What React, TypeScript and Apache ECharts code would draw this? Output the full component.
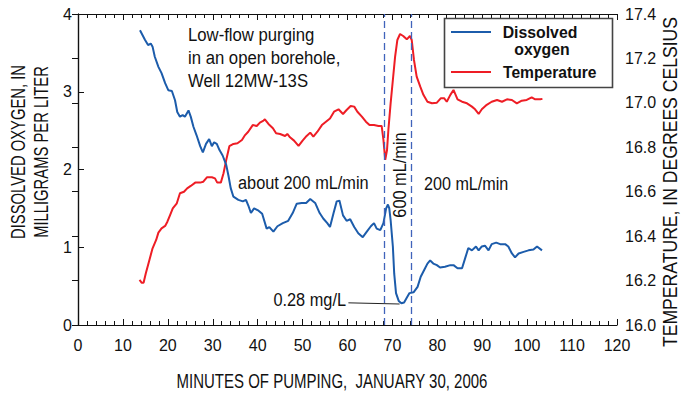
import React, { useEffect, useRef } from "react";
import * as echarts from "echarts";

// Dissolved oxygen readings (minutes of pumping, mg/L)
const minutesDO = [
  13.8, 14.9, 15.6, 16.2, 16.6, 17.1, 17.9, 18.6, 19.4, 20.1, 20.9, 21.6, 22.1, 22.7, 23.3, 23.8,
  24.6, 25.1, 25.7, 26.4, 27.2, 27.8, 28.5, 29.2, 29.8, 30.3, 30.9, 31.5, 32.2, 33.0, 33.5, 34.0,
  34.6, 35.7, 36.7, 37.4, 37.9, 38.5, 39.2, 40.2, 41.0, 42.0, 42.6, 43.5, 44.4, 45.6, 46.8, 47.8,
  48.7, 49.8, 50.8, 51.7, 52.8, 53.8, 54.6, 55.5, 56.1, 56.9, 57.6, 58.2, 59.0, 59.8, 60.6, 61.5,
  62.4, 63.4, 64.3, 65.2, 65.9, 66.5, 67.3, 68.0, 68.6, 69.0, 69.3, 69.6, 70.1, 70.4, 70.8, 71.4,
  72.0, 72.6, 73.1, 73.8, 74.7, 75.6, 76.3, 77.1, 77.8, 78.4, 79.1, 79.9, 80.6, 81.7, 82.9, 83.6,
  84.5, 85.5, 86.2, 86.9, 87.7, 88.6, 89.2, 89.9, 90.6, 91.4, 92.1, 93.1, 94.0, 95.1, 95.8, 96.6,
  97.3, 98.1, 99.2, 100.3, 101.4, 102.2, 103.3,
];
const dissolvedOxygen = [
  3.79, 3.67, 3.6, 3.62, 3.58, 3.45, 3.32, 3.24, 3.11, 3.02, 3.01, 2.89, 2.74, 2.68, 2.7, 2.68,
  2.76, 2.68, 2.55, 2.44, 2.3, 2.22, 2.33, 2.39, 2.3, 2.35, 2.33, 2.25, 2.18, 2.06, 1.92, 1.76,
  1.65, 1.61, 1.59, 1.61, 1.54, 1.44, 1.5, 1.47, 1.43, 1.24, 1.26, 1.2, 1.27, 1.31, 1.34, 1.44,
  1.56, 1.57, 1.57, 1.62, 1.57, 1.44, 1.37, 1.31, 1.26, 1.44, 1.59, 1.6, 1.41, 1.34, 1.36, 1.26,
  1.18, 1.13, 1.2, 1.27, 1.31, 1.24, 1.22, 1.31, 1.5, 1.55, 1.5, 1.35, 1.01, 0.66, 0.41, 0.31,
  0.28, 0.29, 0.34, 0.41, 0.42, 0.49, 0.62, 0.71, 0.79, 0.83, 0.79, 0.77, 0.74, 0.75, 0.77, 0.77,
  0.73, 0.73, 0.86, 0.99, 0.96, 1.01, 0.96, 1.01, 1.02, 0.96, 1.04, 1.06, 1.04, 1.04, 1.01, 0.92,
  0.87, 0.92, 0.94, 0.96, 0.97, 1.01, 0.96,
];

// Water temperature readings (minutes of pumping, degrees Celsius)
const minutesTemp = [
  13.7, 14.2, 14.6, 15.1, 15.9, 16.6, 17.4, 17.9, 18.6, 19.4, 19.9, 20.5, 21.1, 22.0, 22.7, 23.6,
  24.3, 25.1, 26.1, 27.2, 27.9, 28.7, 29.8, 30.5, 31.0, 31.8, 32.4, 33.0, 33.7, 34.6, 35.5, 36.5,
  37.2, 37.9, 38.9, 39.8, 40.5, 41.3, 41.6, 42.4, 43.4, 44.1, 45.0, 46.1, 46.6, 47.2, 48.1, 49.1,
  50.0, 50.9, 51.7, 52.4, 53.3, 54.3, 55.2, 56.1, 57.0, 58.0, 59.0, 59.8, 60.7, 61.5, 62.2, 63.2,
  64.1, 64.9, 65.9, 66.9, 67.6, 68.0, 68.4, 68.8, 69.1, 69.6, 70.1, 70.6, 71.1, 71.7, 72.4, 73.2,
  73.9, 74.3, 74.8, 75.4, 76.2, 76.9, 77.8, 78.8, 79.9, 80.8, 81.5, 82.1, 82.9, 83.6, 84.5, 85.5,
  86.6, 87.7, 88.4, 89.2, 89.9, 91.0, 92.1, 93.3, 94.4, 95.5, 96.6, 97.7, 98.8, 99.9, 101.0, 101.8,
  102.9, 103.4,
];
const temperature = [
  16.203, 16.19, 16.19, 16.233, 16.293, 16.345, 16.383, 16.416, 16.435, 16.446, 16.465, 16.495,
  16.525, 16.548, 16.593, 16.6, 16.615, 16.626, 16.641, 16.641, 16.645, 16.665, 16.665, 16.66,
  16.641, 16.641, 16.683, 16.743, 16.805, 16.815, 16.818, 16.833, 16.855, 16.87, 16.9, 16.896,
  16.911, 16.92, 16.926, 16.905, 16.886, 16.863, 16.86, 16.851, 16.86, 16.845, 16.83, 16.806,
  16.83, 16.851, 16.866, 16.848, 16.87, 16.9, 16.915, 16.93, 16.96, 16.971, 16.95, 16.968,
  16.986, 16.983, 16.96, 16.938, 16.915, 16.9, 16.9, 16.896, 16.896, 16.833, 16.743, 16.788,
  16.878, 16.998, 17.103, 17.208, 17.283, 17.31, 17.301, 17.286, 17.301, 17.283, 17.193, 17.118,
  17.073, 17.036, 17.005, 16.998, 17.001, 17.021, 17.021, 17.005, 17.036, 17.058, 17.016, 17.005,
  16.998, 16.983, 16.971, 16.95, 16.971, 16.991, 17.005, 17.013, 17.005, 17.016, 17.013, 16.998,
  17.01, 17.013, 17.025, 17.016, 17.016, 17.018,
];

// Times when the pumping rate was changed (minutes)
const rateChanges = [68.2, 74.2];

// Minimum dissolved-oxygen reading and its time
const minimumDO = { minute: 72.0, value: 0.28 };

const FONT = "'Liberation Sans', Arial, sans-serif";
const BLUE = "#1c5cab";
const RED = "#ee1d25";
const DASH_BLUE = "#4063bb";

function zip(xs: number[], ys: number[]) {
  return xs.map((x, i) => [x, ys[i]]);
}

// Horizontally condensed text element (narrow type look)
function label(
  text: string,
  x: number,
  y: number,
  size: number,
  squeeze: number,
  opts: { align?: string; valign?: string; rotation?: number; bold?: boolean; lineHeight?: number; z?: number } = {}
) {
  return {
    type: "text",
    x,
    y,
    rotation: opts.rotation ?? 0,
    scaleX: squeeze,
    z: opts.z ?? 5,
    style: {
      text,
      font: `${opts.bold ? "bold " : ""}${size}px ${FONT}`,
      lineHeight: opts.lineHeight,
      fill: "#111",
      align: opts.align ?? "left",
      verticalAlign: opts.valign ?? "middle",
    },
  };
}

export default function App() {
  const ref = useRef<HTMLDivElement>(null);

  useEffect(() => {
    if (!ref.current) return;
    const chart = echarts.init(ref.current, null, { renderer: "svg" });

    const tickLabel = { fontFamily: FONT, fontSize: 16, color: "#111" };
    const axisLine = { show: true, lineStyle: { color: "#111", width: 1.2 } };

    const xCommon = {
      type: "value" as const,
      min: 0,
      max: 120,
      interval: 10,
      axisLine,
      axisTick: { show: true, inside: true, length: 6, lineStyle: { color: "#111" } },
      minorTick: { show: true, splitNumber: 5, length: 4, lineStyle: { color: "#111" } },
      splitLine: { show: false },
    };

    const option: any = {
      animation: false,
      backgroundColor: "#fff",
      grid: { left: 78, right: 66, top: 14, bottom: 69, containLabel: false },
      xAxis: [
        { ...xCommon, position: "bottom", axisLabel: { ...tickLabel, margin: 12 } },
        { ...xCommon, position: "top", axisLabel: { show: false } },
      ],
      yAxis: [
        {
          type: "value",
          min: 0,
          max: 4,
          interval: 1,
          position: "left",
          axisLine,
          axisTick: { show: true, inside: true, length: 6, lineStyle: { color: "#111" } },
          axisLabel: { ...tickLabel, margin: 6 },
          splitLine: { show: false },
        },
        {
          type: "value",
          min: 16.0,
          max: 17.4,
          interval: 0.2,
          position: "right",
          axisLine,
          axisTick: { show: true, inside: true, length: 6, lineStyle: { color: "#111" } },
          axisLabel: { ...tickLabel, margin: 8, formatter: (v: number) => v.toFixed(1) },
          splitLine: { show: false },
        },
      ],
      series: [
        {
          name: "Dissolved oxygen",
          type: "line",
          xAxisIndex: 0,
          yAxisIndex: 0,
          data: zip(minutesDO, dissolvedOxygen),
          showSymbol: false,
          lineStyle: { color: BLUE, width: 2 },
          z: 3,
          markLine: {
            silent: true,
            symbol: ["none", "none"],
            data: [
              ...rateChanges.map((m) => ({
                xAxis: m,
                lineStyle: { color: DASH_BLUE, width: 1.3, type: [7, 4] },
                label: { show: false },
              })),
              [
                {
                  coord: [60.2, minimumDO.value + 0.005],
                  lineStyle: { color: "#222", width: 1, type: "solid" },
                  label: { show: false },
                },
                { coord: [minimumDO.minute - 0.4, minimumDO.value - 0.01] },
              ],
            ],
          },
        },
        {
          name: "Temperature",
          type: "line",
          xAxisIndex: 0,
          yAxisIndex: 1,
          data: zip(minutesTemp, temperature),
          showSymbol: false,
          lineStyle: { color: RED, width: 2 },
          z: 2,
        },
      ],
      graphic: [
        // Axis titles
        label("MINUTES OF PUMPING,  JANUARY 30, 2006", 332, 381, 20, 0.75, { align: "center" }),
        label("DISSOLVED OXYGEN, IN", 18, 152, 20, 0.74, { align: "center", rotation: Math.PI / 2 }),
        label("MILLIGRAMS PER LITER", 41, 152, 20, 0.74, { align: "center", rotation: Math.PI / 2 }),
        label("TEMPERATURE, IN DEGREES CELSIUS", 670, 182, 20, 0.88, { align: "center", rotation: Math.PI / 2 }),
        // Annotations
        label("Low-flow purging\nin an open borehole,\nWell 12MW-13S", 188, 23, 19, 0.88, {
          valign: "top",
          lineHeight: 23,
        }),
        label("about 200 mL/min", 238, 183, 19, 0.86),
        label("200 mL/min", 424, 184, 19, 0.85),
        label("600 mL/min", 400, 175, 19, 0.86, { align: "center", rotation: Math.PI / 2 }),
        label(`${minimumDO.value} mg/L`, 346, 300, 19, 0.86, { align: "right" }),
        // Legend
        {
          type: "rect",
          shape: { x: 444.5, y: 18.5, width: 168, height: 69 },
          style: { fill: "#fff", stroke: "#444", lineWidth: 1.6 },
          z: 10,
        },
        {
          type: "line",
          shape: { x1: 451, y1: 32, x2: 491, y2: 32 },
          style: { stroke: BLUE, lineWidth: 2 },
          z: 11,
        },
        label("Dissolved", 540, 32, 17, 0.93, { align: "center", bold: true, z: 11 }),
        label("oxygen", 542, 49, 17, 0.93, { align: "center", bold: true, z: 11 }),
        {
          type: "line",
          shape: { x1: 451, y1: 72, x2: 491, y2: 72 },
          style: { stroke: RED, lineWidth: 2 },
          z: 11,
        },
        label("Temperature", 503, 72, 17, 0.92, { bold: true, z: 11 }),
      ],
    };

    chart.setOption(option);
    return () => chart.dispose();
  }, []);

  return (
    <div
      ref={ref}
      style={{ position: "fixed", left: 0, top: 0, width: 683, height: 394, background: "#fff" }}
    />
  );
}
